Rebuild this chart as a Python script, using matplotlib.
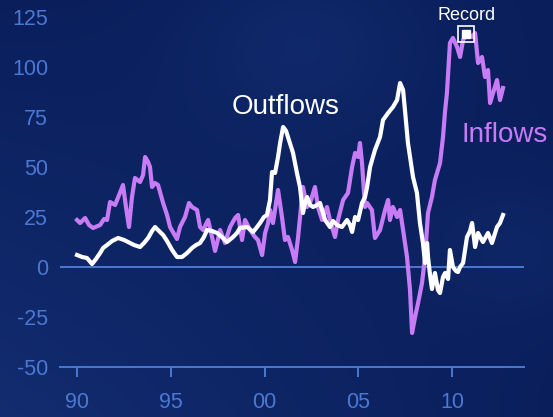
import matplotlib
matplotlib.use("Agg")
import matplotlib.pyplot as plt
import numpy as np

# ── colours / fonts ────────────────────────────────────────────────────────
AXIS_BLUE = "#4a78d2"
PURPLE = "#c77cf6"
WHITE = "#ffffff"
plt.rcParams["font.family"] = ["Liberation Sans", "DejaVu Sans"]
plt.rcParams["axes.unicode_minus"] = False

# ── data (decimal year, value) ────────────────────────────────────────────
in_years = [1990.00, 1990.16, 1990.43, 1990.64, 1990.85, 1991.23, 1991.44, 1991.60, 1991.76,
            1992.03, 1992.24, 1992.45, 1992.61, 1992.77, 1992.93, 1993.09, 1993.36, 1993.52,
            1993.63, 1993.79, 1993.89, 1994.00, 1994.16, 1994.32, 1994.59, 1994.80, 1994.96,
            1995.33, 1995.49, 1995.76, 1995.97, 1996.13, 1996.40, 1996.56, 1996.72, 1996.99,
            1997.20, 1997.36, 1997.52, 1997.63, 1997.89, 1998.16, 1998.43, 1998.59, 1998.80,
            1998.96, 1999.23, 1999.49, 1999.65, 1999.87, 2000.03, 2000.19, 2000.29, 2000.45,
            2000.72, 2000.93, 2001.09, 2001.25, 2001.47, 2001.63, 2001.79, 2002.05, 2002.27,
            2002.43, 2002.69, 2002.85, 2003.07, 2003.33, 2003.49, 2003.76, 2003.92, 2004.19,
            2004.45, 2004.67, 2004.83, 2004.99, 2005.09, 2005.20, 2005.36, 2005.47, 2005.73,
            2005.89, 2006.16, 2006.43, 2006.59, 2006.69, 2006.85, 2007.07, 2007.23, 2007.39,
            2007.60, 2007.76, 2007.87, 2008.03, 2008.19, 2008.40, 2008.56, 2008.72, 2008.93,
            2009.09, 2009.36, 2009.52, 2009.63, 2009.73, 2009.89, 2010.05, 2010.27, 2010.43,
            2010.59, 2010.80, 2011.07, 2011.23, 2011.39, 2011.60, 2011.76, 2011.92, 2012.03,
            2012.19, 2012.40, 2012.56, 2012.72]
inflows = [23.5, 22, 24.5, 21, 19.5, 21, 24, 23.5, 32.5,
           31, 36, 41, 30, 20, 35, 44.5, 42.5, 46,
           55, 52.5, 50, 40, 42, 41, 32, 26, 20,
           14, 20, 25, 32, 30, 28.5, 20, 18.5, 23.5,
           15, 8, 14, 18.5, 12, 20, 24.5, 26, 13.5,
           23.5, 18.5, 15, 13.5, 6, 17, 22, 28.5, 22,
           38.5, 25, 13.5, 15, 8.5, 2.5, 15, 40, 30,
           32, 40, 30, 23.5, 30, 23.5, 15, 23.5, 33.5,
           37, 50, 57, 55, 62, 52, 30, 32, 28.5,
           14.5, 18.5, 28.5, 33.5, 23.5, 30, 25, 28.5, 18.5,
           5, -11.5, -33, -25, -18, -8, 5, 27, 35,
           43.5, 52, 65, 78, 87, 112, 114.5, 110, 105,
           113.5, 117, 115, 117, 102, 105, 95, 98.5, 82,
           87, 93.5, 83.5, 89.5]

out_years = [1990.00, 1990.27, 1990.53, 1990.80, 1991.01, 1991.23, 1991.39, 1991.60, 1991.87,
             1992.19, 1992.51, 1992.72, 1993.04, 1993.36, 1993.57, 1993.79, 1994.00, 1994.16,
             1994.37, 1994.59, 1994.80, 1995.07, 1995.33, 1995.60, 1995.87, 1996.13, 1996.35,
             1996.56, 1996.77, 1996.93, 1997.20, 1997.47, 1997.73, 1998.00, 1998.32, 1998.53,
             1998.69, 1999.07, 1999.39, 1999.60, 1999.76, 1999.97, 2000.13, 2000.29, 2000.40,
             2000.56, 2000.72, 2000.83, 2000.99, 2001.15, 2001.25, 2001.52, 2001.73, 2001.89,
             2002.05, 2002.16, 2002.27, 2002.43, 2002.59, 2002.80, 2002.96, 2003.12, 2003.23,
             2003.49, 2003.65, 2003.87, 2004.13, 2004.40, 2004.56, 2004.67, 2004.83, 2004.99,
             2005.20, 2005.36, 2005.47, 2005.63, 2005.89, 2006.16, 2006.32, 2006.59, 2006.85,
             2007.07, 2007.23, 2007.39, 2007.49, 2007.65, 2007.92, 2008.13, 2008.29, 2008.45,
             2008.56, 2008.67, 2008.72, 2008.83, 2008.93, 2009.09, 2009.25, 2009.36, 2009.52,
             2009.63, 2009.79, 2009.89, 2010.05, 2010.21, 2010.32, 2010.43, 2010.59, 2010.80,
             2010.96, 2011.07, 2011.23, 2011.39, 2011.65, 2011.92, 2012.13, 2012.40, 2012.56,
             2012.72]
outflows = [6, 5, 4.5, 1.5, 4, 7, 9.5, 11, 13,
            14.5, 13.5, 12.5, 11, 10, 12, 14.5, 18, 20,
            18, 16, 13, 8.5, 5, 5, 7, 9.5, 11,
            12, 15, 18.5, 18, 17, 15, 12.5, 15, 17,
            19.5, 20, 17.5, 20, 22, 25, 26, 33.5, 47.5,
            47, 55, 62, 70, 68, 65, 57, 47, 40,
            27, 32, 35, 31, 30, 31, 32, 27, 23.5,
            20, 23, 21, 20, 23.5, 21, 17.5, 25, 23.5,
            32, 35, 40, 50, 58.5, 65, 73.5, 77, 80,
            83.5, 92, 88.5, 78.5, 62, 45, 37, 22, 12,
            2, 12, 5, -4, -11, -3, -11.5, -13, -5,
            -3, -6, 8.5, 0, -2, -2.5, 0, 2, 15,
            18, 22, 10, 17, 12.5, 17, 12, 20, 22,
            26]

record_year, record_value = 2010.76, 116.75
x_ticks = [1990, 1995, 2000, 2005, 2010]
x_labels = ["90", "95", "00", "05", "10"]
y_ticks = [-50, -25, 0, 25, 50, 75, 100, 125]

# ── figure with textured navy background ──────────────────────────────────
fig = plt.figure(figsize=(5.53, 4.17), dpi=100)
bg = fig.add_axes([0, 0, 1, 1], zorder=0)
yy, xx = np.mgrid[0:1:200j, 0:1:260j]
base = np.array([0.04, 0.12, 0.36])
light = np.array([0.10, 0.22, 0.50])
w = np.clip(0.55 * (1 - xx) * yy + 0.35 * np.exp(-((xx - 0.55) ** 2 + (yy - 0.1) ** 2) / 0.05)
            + 0.25 * np.exp(-((xx - 0.95) ** 2 + (yy - 0.6) ** 2) / 0.03), 0, 1)
img = base[None, None, :] * (1 - w[..., None]) + light[None, None, :] * w[..., None]
bg.imshow(img, extent=[0, 1, 0, 1], origin="upper", aspect="auto")
bg.axis("off")

ax = fig.add_axes([60 / 553, 1 - 367 / 417, 464 / 553, 350 / 417], zorder=1)
ax.patch.set_alpha(0)
ax.set_xlim(1989.09, 2013.84)
ax.set_ylim(-50, 125)

ax.axhline(0, color=AXIS_BLUE, lw=1.4, zorder=1)
ax.plot(in_years, inflows, color=PURPLE, lw=3, solid_joinstyle="round", zorder=2)
ax.plot(out_years, outflows, color=WHITE, lw=3, solid_joinstyle="round", zorder=3)

# record marker
ax.plot(record_year, record_value, marker="s", ms=11, mfc="none", mec=WHITE, mew=1.2,
        clip_on=False, zorder=4)
ax.plot(record_year, record_value, marker="s", ms=5.5, mfc=WHITE, mec=WHITE,
        clip_on=False, zorder=4)
ax.text(record_year, record_value + 4.5, "Record", color=WHITE, fontsize=13,
        ha="center", va="bottom", clip_on=False)

ax.text(2001.1, 80, "Outflows", color=WHITE, fontsize=20, ha="center", va="center")
ax.text(2012.8, 66, "Inflows", color=PURPLE, fontsize=20, ha="center", va="center")

for side in ["top", "right", "left"]:
    ax.spines[side].set_visible(False)
ax.spines["bottom"].set_color(AXIS_BLUE)
ax.spines["bottom"].set_linewidth(1.4)

ax.set_xticks(x_ticks)
ax.set_xticklabels(x_labels)
ax.set_yticks(y_ticks)
ax.tick_params(axis="x", colors=AXIS_BLUE, direction="out", length=7, width=1.4,
               pad=11, labelsize=15.5)
ax.tick_params(axis="y", colors=AXIS_BLUE, length=0, pad=8.5, labelsize=15.5)

fig.savefig("out.png", dpi=100)
